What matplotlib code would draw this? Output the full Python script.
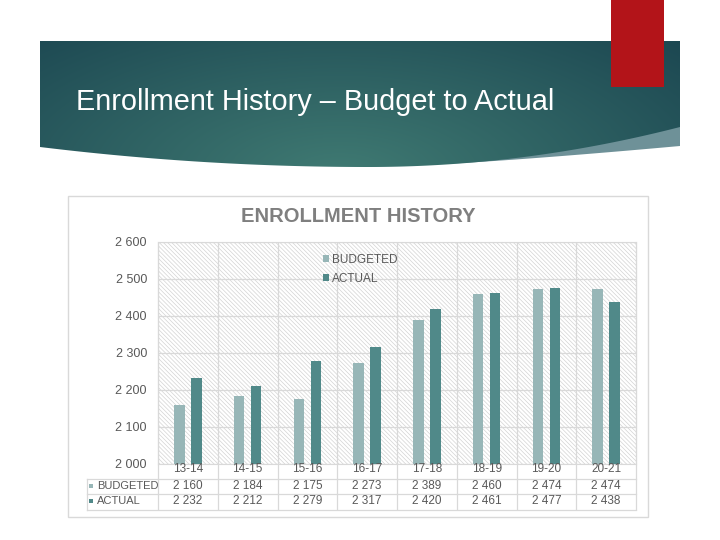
import numpy as np
import matplotlib.pyplot as plt
from matplotlib.patches import Rectangle, Polygon
from matplotlib.lines import Line2D

plt.rcParams['font.family'] = ['Liberation Sans', 'DejaVu Sans']
plt.rcParams['hatch.linewidth'] = 0.5

# Data
years = ['13-14', '14-15', '15-16', '16-17', '17-18', '18-19', '19-20', '20-21']
budgeted = [2160, 2184, 2175, 2273, 2389, 2460, 2474, 2474]
actual = [2232, 2212, 2279, 2317, 2420, 2461, 2477, 2438]

c_budget = '#97B6B7'
c_actual = '#508989'
c_text = '#595959'
c_grid = '#D9D9D9'

fig = plt.figure(figsize=(7.2, 5.4), dpi=100)

# background layer in pixel coordinates
bg = fig.add_axes([0, 0, 1, 1])
bg.set_xlim(0, 720)
bg.set_ylim(540, 0)
bg.axis('off')

# grey-blue sliver under the banner
xs2 = np.linspace(440, 680, 100)
sl_bottom = 164 - 18 * ((xs2 - 440) / 240) ** 1.2
sliver = np.vstack([np.column_stack([xs2, sl_bottom]), [[680, 110], [440, 110]]])
bg.add_patch(Polygon(sliver, closed=True, facecolor='#6E9198', edgecolor='none', zorder=0.5))

# teal banner with curved bottom
xs = np.linspace(40, 680, 300)
bottom = np.where(xs <= 368,
                  167 - 20 * ((xs - 368) / 328) ** 2,
                  167 - 40 * ((xs - 368) / 312) ** 2)
banner_pts = np.vstack([[[40, 41], [680, 41]], np.column_stack([xs[::-1], bottom[::-1]])])
banner = Polygon(banner_pts, closed=True, facecolor='none', edgecolor='none')
bg.add_patch(banner)

gx, gy = np.meshgrid(np.linspace(40, 680, 320), np.linspace(41, 170, 80))
d = np.clip(np.sqrt(((gx - 340) / 460) ** 2 + ((gy - 175) / 200) ** 2), 0, 1)
c_in = np.array([0.25, 0.48, 0.45])
c_out = np.array([0.11, 0.28, 0.32])
grad = c_in[None, None, :] * (1 - d[..., None]) + c_out[None, None, :] * d[..., None]
im = bg.imshow(grad, extent=(40, 680, 170, 41), aspect='auto', interpolation='bilinear',
               zorder=1)
im.set_clip_path(banner)

# red accent
bg.add_patch(Rectangle((611, 0), 53, 87, facecolor='#B31419', edgecolor='none', zorder=2))

bg.text(76, 102, 'Enrollment History \u2013 Budget to Actual', color='white',
        fontsize=20.8, va='center', ha='left', zorder=3)

# chart box
bg.add_patch(Rectangle((68, 196), 580, 321, facecolor='white', edgecolor=c_grid, lw=1))
bg.text(358, 216, 'ENROLLMENT HISTORY', color='#7F7F7F', fontsize=14.5,
        fontweight='bold', ha='center', va='center')

# chart
ax = fig.add_axes([158 / 720, 1 - 464 / 540, 478 / 720, 222 / 540])
ax.add_patch(Rectangle((0, 0), 1, 1, transform=ax.transAxes, facecolor='white',
                       edgecolor='#D3D3D3', hatch='\\' * 8, lw=0, zorder=0))

x = np.arange(len(years))
w = 0.175
b1 = ax.bar(x - 0.142, budgeted, w, color=c_budget, zorder=3, label='BUDGETED')
b2 = ax.bar(x + 0.142, actual, w, color=c_actual, zorder=3, label='ACTUAL')

ax.set_xlim(-0.5, len(years) - 0.5)
ax.set_ylim(2000, 2600)
yt = np.arange(2000, 2601, 100)
ax.set_yticks(yt)
ax.set_yticklabels(['{:,}'.format(v).replace(',', ' ') for v in yt])
ax.set_xticks([])
ax.tick_params(axis='y', length=0, pad=8, labelsize=9, labelcolor=c_text)
for v in yt:
    ax.axhline(v, color=c_grid, lw=0.9, zorder=1)
for s in ax.spines.values():
    s.set_color(c_grid)

# vertical separators through plot and table
xt = ax.get_xaxis_transform()
r1, r2, r3 = -0.0698, -0.137, -0.207
ax.vlines(np.arange(-0.5, len(years)), r3, 1, transform=xt, color=c_grid, lw=0.9,
          clip_on=False, zorder=1)

# data table
for yy in [r1, r2, r3]:
    bg.add_line(Line2D([86.5, 636], [464 - yy * 222] * 2, color=c_grid, lw=0.9))
bg.add_line(Line2D([86.5, 86.5], [464 - r1 * 222, 464 - r3 * 222], color=c_grid, lw=0.9))

for i, yr in enumerate(years):
    ax.text(i, -0.024, yr, transform=xt, ha='center', va='center', fontsize=8.5,
            color=c_text)
    ax.text(i, -0.1, '{:,}'.format(budgeted[i]).replace(',', ' '), transform=xt,
            ha='center', va='center', fontsize=8.5, color=c_text)
    ax.text(i, -0.168, '{:,}'.format(actual[i]).replace(',', ' '), transform=xt,
            ha='center', va='center', fontsize=8.5, color=c_text)

bg.add_patch(Rectangle((88.5, 483.5), 4.5, 4.5, facecolor=c_budget, edgecolor='none'))
bg.add_patch(Rectangle((88.5, 498.5), 4.5, 4.5, facecolor=c_actual, edgecolor='none'))
bg.text(97, 486, 'BUDGETED', fontsize=8, color=c_text, va='center', ha='left')
bg.text(97, 501, 'ACTUAL', fontsize=8, color=c_text, va='center', ha='left')

# legend
leg = ax.legend(handles=[b1, b2], loc='upper left', frameon=False,
                bbox_to_anchor=(312 / 720, 1 - 243 / 540), bbox_transform=fig.transFigure,
                fontsize=8.5, handlelength=0.5, handleheight=0.5, handletextpad=0.3,
                labelspacing=0.6, labelcolor=c_text)

fig.savefig('out.png', dpi=100)
